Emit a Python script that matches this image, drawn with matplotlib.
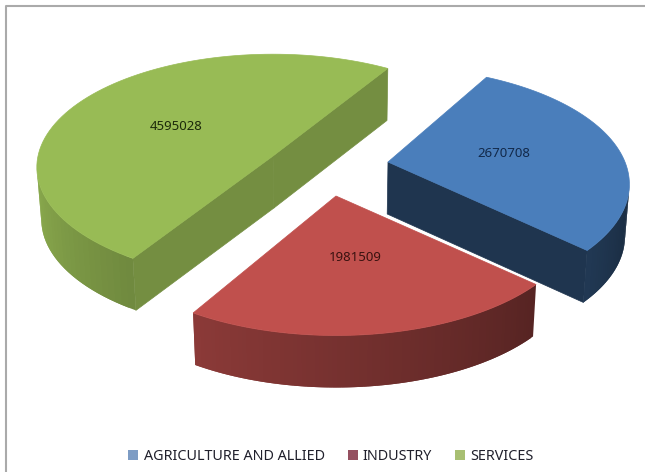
import numpy as np
import matplotlib
matplotlib.use('Agg')
import matplotlib.pyplot as plt
from matplotlib.patches import Polygon, Patch
from matplotlib.lines import Line2D

categories = ['AGRICULTURE AND ALLIED', 'INDUSTRY', 'SERVICES']
values = [2670708, 1981509, 4595028]

top_colors = ['#4a7ebb', '#c0504d', '#98bb55']
legend_colors = ['#7d9cc4', '#955060', '#a8bf72']
label_colors = ['#12294a', '#3a1210', '#1c2a0a']
cut_shade = [0.42, 0.45, 0.76]

# layout per wedge, in image pixels
apexes = [(388, 162), (336, 196), (273, 156)]
radius_x = [237, 238, 235]
radius_y = [113, 113, 112]
persp = [0.19, 0.19, 0.10]
turn = [0, 0, 3]
start_angle = 29
depth = 52
shrink = 0.985
center_x = 335


def project(i, theta, r=1.0):
    # theta is clockwise from the back of the pie
    u = r * np.sin(np.radians(theta))
    v = r * np.cos(np.radians(theta))
    w = 1 + persp[i] * v
    return apexes[i][0] + radius_x[i] * u / w, apexes[i][1] - radius_y[i] * v / w


def lower(p):
    return center_x + (p[0] - center_x) * shrink, p[1] + depth


def shade(color, f):
    rgb = np.array(matplotlib.colors.to_rgb(color))
    return tuple(np.clip(rgb * f, 0, 1))


def arc_shade(theta):
    return np.clip(0.45 + (theta - 133) * 0.0036, 0.33, 0.95)


def draw_wedge(ax, i, t0, t1):
    color = top_colors[i]
    apex = apexes[i]
    thetas = np.linspace(t0, t1, 90)
    arc = [project(i, t) for t in thetas]

    # side faces that look towards the viewer
    for p, q in [(apex, arc[0]), (arc[-1], apex)]:
        if q[0] < p[0]:
            ax.add_patch(Polygon([p, q, lower(q), lower(p)], closed=True,
                                 fc=shade(color, cut_shade[i]), ec=shade(color, cut_shade[i]),
                                 lw=0.5, zorder=2))
    # each piece runs on under the next one so no seams show
    for j in range(len(arc) - 1):
        p, q = arc[j], arc[j + 1]
        if q[0] < p[0]:
            end = arc[min(j + 2, len(arc) - 1)]
            if end[0] >= q[0]:
                end = q
            ax.add_patch(Polygon([p, q, end, lower(end), lower(q), lower(p)], closed=True,
                                 fc=shade(color, arc_shade(thetas[j] % 360)), ec='none', zorder=2))

    ax.add_patch(Polygon([apex] + arc, closed=True, fc=color, ec=color, lw=0.5, zorder=3))


def main():
    fig = plt.figure(figsize=(6.45, 4.72), dpi=100, facecolor='white')
    ax = fig.add_axes([0, 0, 1, 1])
    ax.set_xlim(0, 645)
    ax.set_ylim(472, 0)
    ax.axis('off')

    # chart frame, only top and left are in the crop
    ax.add_line(Line2D([5.5, 5.5, 645], [472, 5.5, 5.5], color='#aaaaaa', lw=1.5))

    spans = np.array(values) / sum(values) * 360
    starts = start_angle + np.concatenate([[0], np.cumsum(spans)[:-1]])

    for i in [2, 0, 1]:
        t0, t1 = starts[i] + turn[i], starts[i] + spans[i] + turn[i]
        draw_wedge(ax, i, t0, t1)
        lx, ly = project(i, (t0 + t1) / 2, 0.5)
        ax.text(lx, ly, str(values[i]), ha='center', va='center', fontsize=9.5,
                family='Noto Sans', color=label_colors[i], zorder=5)

    handles = [Patch(fc=c, ec='none') for c in legend_colors]
    ax.legend(handles, categories, loc='lower center', bbox_to_anchor=(0.513, -0.01), ncol=3,
              frameon=False, handlelength=0.7, handleheight=0.7, handletextpad=0.35,
              columnspacing=1.6, prop={'family': 'Noto Sans', 'size': 10.35}, labelcolor='#20202c')

    fig.savefig('out.png', dpi=100, facecolor='white')


if __name__ == '__main__':
    main()
